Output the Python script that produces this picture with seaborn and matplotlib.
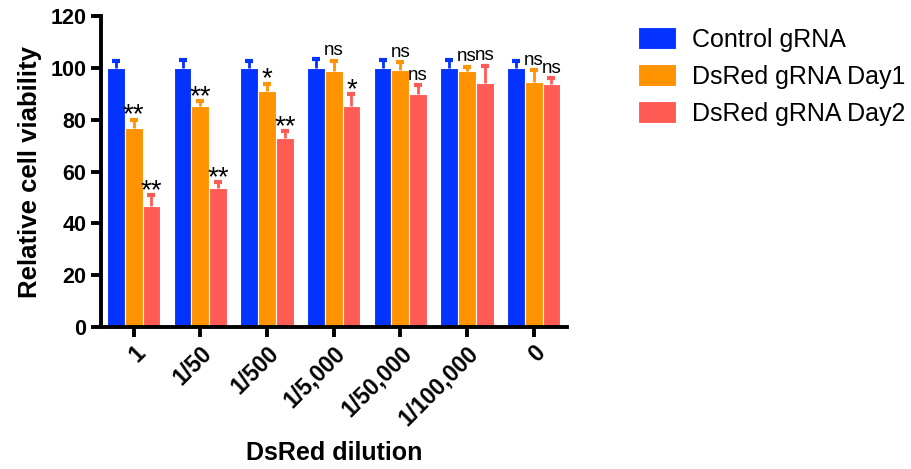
import numpy as np
import pandas as pd
import seaborn as sns
import matplotlib
matplotlib.use("Agg")
import matplotlib.pyplot as plt

dilutions = ["1", "1/50", "1/500", "1/5,000", "1/50,000", "1/100,000", "0"]
groups = ["Control gRNA", "DsRed gRNA Day1", "DsRed gRNA Day2"]
control_mean = [100, 100, 100, 100, 100, 100, 100]
control_err = [2.7, 3.2, 2.7, 3.5, 3.2, 3.1, 2.8]
day1_mean = [76.7, 85.1, 91.2, 98.6, 99.2, 98.8, 94.7]
day1_err = [3.3, 2.1, 2.7, 4.2, 3.0, 1.7, 4.4]
day2_mean = [46.6, 53.5, 72.9, 85.4, 90.0, 94.3, 93.8]
day2_err = [4.3, 2.4, 2.8, 4.5, 3.3, 6.5, 2.3]
day1_sig = ["**", "**", "*", "ns", "ns", "ns", "ns"]
day2_sig = ["**", "**", "**", "*", "ns", "ns", "ns"]
colors = ["#0433FF", "#FF9300", "#FF5B55"]

means = [control_mean, day1_mean, day2_mean]
errs = [control_err, day1_err, day2_err]
sigs = [None, day1_sig, day2_sig]

df = pd.DataFrame({
    "dilution": dilutions * 3,
    "group": [g for g in groups for _ in dilutions],
    "value": control_mean + day1_mean + day2_mean,
})

sns.set_style("white")
plt.rcParams["font.family"] = ["Liberation Sans", "DejaVu Sans"]
plt.rcParams["text.color"] = "black"
plt.rcParams["axes.labelcolor"] = "black"
plt.rcParams["xtick.color"] = "black"
plt.rcParams["ytick.color"] = "black"

fig = plt.figure(figsize=(9.12, 4.69), dpi=100)
ax = fig.add_axes([101 / 912, 1 - 327 / 469, (567 - 101) / 912, (327 - 16) / 469])

sns.barplot(data=df, x="dilution", y="value", hue="group", order=dilutions,
            hue_order=groups, palette=colors, errorbar=None, width=0.8,
            edgecolor="white", linewidth=0.8, saturation=1, ax=ax, legend=True)

bar_conts = list(ax.containers)
for k, cont in enumerate(bar_conts):
    for i, bar in enumerate(list(cont)):
        xc = bar.get_x() + bar.get_width() / 2
        h = bar.get_height()
        e = errs[k][i]
        _, caps, _ = ax.errorbar(xc, h, yerr=[[0], [e]], fmt="none", ecolor=colors[k],
                                 elinewidth=2, capsize=3.2, capthick=3, zorder=3)
        for c in caps:
            if np.isclose(c.get_ydata()[0], h):
                c.set_visible(False)
        if sigs[k] is not None:
            s = sigs[k][i]
            if s == "ns":
                ax.annotate(s, (xc, h + e), xytext=(0, 1), textcoords="offset points",
                            ha="center", va="bottom", fontsize=13.5)
            else:
                ax.annotate(s, (xc, h + e), xytext=(0, -6.5), textcoords="offset points",
                            ha="center", va="bottom", fontsize=20)

ax.set_ylim(0, 120)
ax.set_xlim(-0.49, 6.5)
ax.set_yticks([0, 20, 40, 60, 80, 100, 120])
for s in ["top", "right"]:
    ax.spines[s].set_visible(False)
for s in ["left", "bottom"]:
    ax.spines[s].set_linewidth(2.8)
    ax.spines[s].set_color("black")
ax.tick_params(axis="both", which="major", length=7, width=2.8, direction="out",
               color="black", labelcolor="black", labelsize=15.5, left=True, bottom=True)
for lab in ax.get_yticklabels():
    lab.set_fontweight("bold")
ax.set_xticks(range(len(dilutions)))
ax.set_xticklabels(dilutions, rotation=45, ha="right", rotation_mode="anchor",
                   fontweight="bold", fontsize=16.5)
ax.set_ylabel("Relative cell viability", fontsize=18.5, fontweight="bold", labelpad=6)
ax.set_xlabel("DsRed dilution", fontsize=18, fontweight="bold", labelpad=8)

leg = ax.get_legend()
handles, labels = ax.get_legend_handles_labels()
leg.remove()
fig.legend(handles, labels, loc="upper left", bbox_to_anchor=(616 / 912, 1 - 5 / 469),
           frameon=False, fontsize=18, handlelength=1.5, handleheight=0.95,
           handletextpad=0.65, labelspacing=0.5)

fig.savefig("out.png", dpi=100)
